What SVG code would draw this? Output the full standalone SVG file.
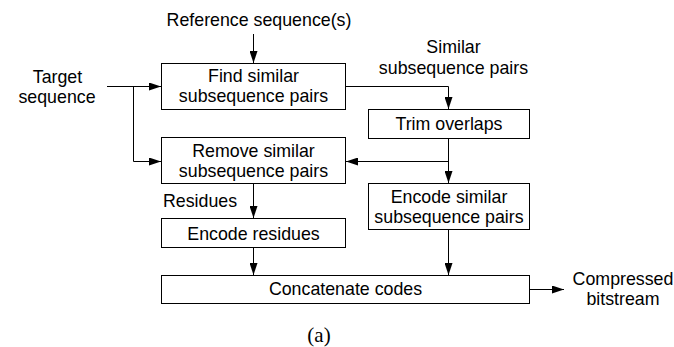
<svg xmlns="http://www.w3.org/2000/svg" width="674" height="347" viewBox="0 0 674 347">
<defs>
<marker id="ah" markerWidth="12" markerHeight="8" refX="12" refY="4" orient="auto" markerUnits="userSpaceOnUse">
<path d="M0,0 L12,4 L0,8 Z" fill="#000"/>
</marker>
<style>
.box{fill:#fff;stroke:#000;stroke-width:1}
.t{font-family:"Liberation Sans",Arial,sans-serif;font-size:17.8px;fill:#000}
.m{text-anchor:middle}
.c{fill:none;stroke:#000;stroke-width:1}
</style>
</defs>
<rect width="674" height="347" fill="#fff"/>
<g id="connectors">
<path class="c" d="M253.5,34 V63" marker-end="url(#ah)"/>
<path class="c" d="M107,86.5 H161" marker-end="url(#ah)"/>
<path class="c" d="M133.5,86.5 V161.5 H161" marker-end="url(#ah)"/>
<path class="c" d="M345.5,86.5 H448.5 V109" marker-end="url(#ah)"/>
<path class="c" d="M448.5,138.5 V183" marker-end="url(#ah)"/>
<path class="c" d="M448.5,161.5 H346" marker-end="url(#ah)"/>
<path class="c" d="M253.5,183.5 V218" marker-end="url(#ah)"/>
<path class="c" d="M253.5,247.5 V275" marker-end="url(#ah)"/>
<path class="c" d="M448.5,229.5 V275" marker-end="url(#ah)"/>
<path class="c" d="M529.5,289.5 H564" marker-end="url(#ah)"/>
</g>
<g id="label-reference"><text class="t m" x="259" y="26">Reference sequence(s)</text></g>
<g id="label-target"><text class="t m" x="57.5" y="82.5">Target</text><text class="t m" x="57" y="102.5">sequence</text></g>
<g id="label-similar"><text class="t m" x="453.5" y="53">Similar</text><text class="t m" x="453.5" y="74">subsequence pairs</text></g>
<g id="label-residues"><text class="t" x="163" y="207">Residues</text></g>
<g id="label-compressed"><text class="t m" x="623" y="285">Compressed</text><text class="t m" x="623" y="305">bitstream</text></g>
<g id="find"><rect class="box" x="161.5" y="63.5" width="184" height="46"/><text class="t m" x="253.5" y="82">Find similar</text><text class="t m" x="253.5" y="102">subsequence pairs</text></g>
<g id="remove"><rect class="box" x="161.5" y="137.5" width="184" height="46"/><text class="t m" x="253.5" y="157">Remove similar</text><text class="t m" x="253.5" y="177">subsequence pairs</text></g>
<g id="encode-residues"><rect class="box" x="161.5" y="218.5" width="184" height="29"/><text class="t m" x="253.5" y="240">Encode residues</text></g>
<g id="trim"><rect class="box" x="368.5" y="109.5" width="161" height="29"/><text class="t m" x="449" y="129.5">Trim overlaps</text></g>
<g id="encode-similar"><rect class="box" x="368.5" y="183.5" width="161" height="46"/><text class="t m" x="449" y="203">Encode similar</text><text class="t m" x="449" y="223">subsequence pairs</text></g>
<g id="concatenate"><rect class="box" x="161.5" y="275.5" width="368" height="28"/><text class="t m" x="345.5" y="295">Concatenate codes</text></g>
<g id="caption"><text x="319" y="342" text-anchor="middle" style="font-family:'Liberation Serif','Times New Roman',serif;font-size:21px">(a)</text></g>
</svg>
